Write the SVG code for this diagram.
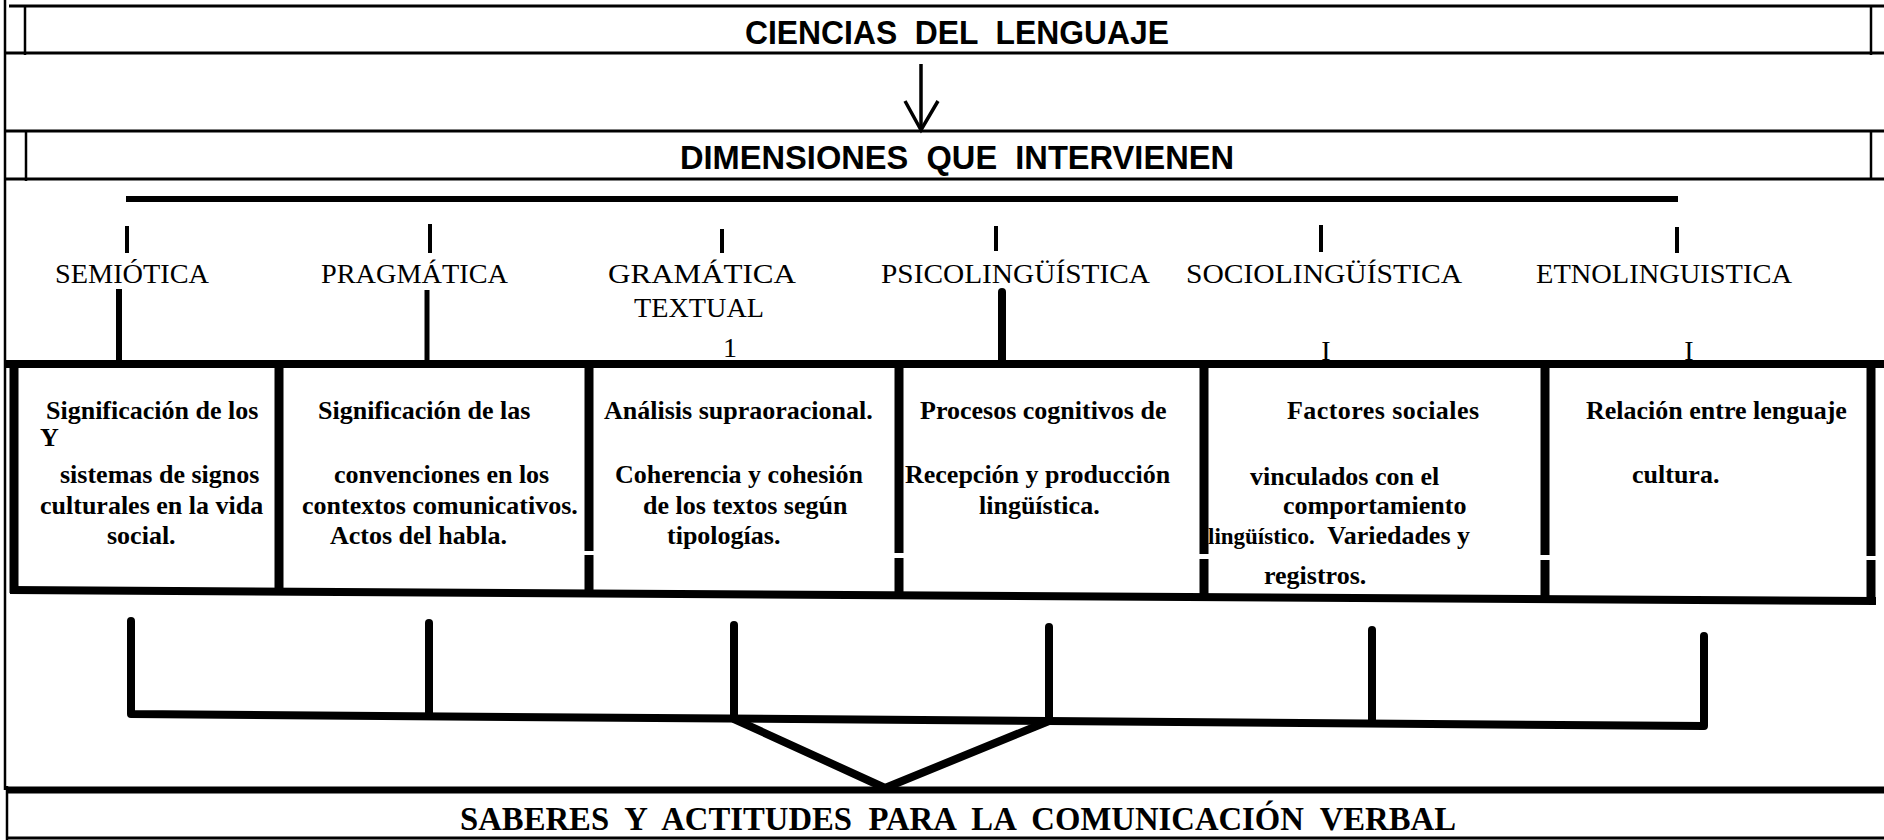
<svg xmlns="http://www.w3.org/2000/svg" width="1884" height="840" viewBox="0 0 1884 840">
<style>
.ln{stroke:#000;fill:none;stroke-linecap:butt}
.thin{stroke-width:3}
.hdr{font-family:"Liberation Sans",Arial,sans-serif;font-weight:bold;font-size:33px;fill:#000}
.lbl{font-family:"Liberation Serif","Times New Roman",serif;font-size:28px;fill:#000}
.bx{font-family:"Liberation Serif","Times New Roman",serif;font-weight:bold;font-size:26px;fill:#000}
.ftr{font-family:"Liberation Serif","Times New Roman",serif;font-weight:bold;font-size:34px;fill:#000}
.gap{fill:#fff}
</style>
<rect width="1884" height="840" fill="#fff"/>

<g id="outer-border">
<line class="ln" x1="5" y1="0" x2="5" y2="790" stroke-width="2.5"/>
</g>

<g id="ciencias-del-lenguaje">
<line class="ln thin" x1="9" y1="6" x2="1884" y2="6"/>
<line class="ln thin" x1="5" y1="53" x2="1884" y2="53"/>
<line class="ln" x1="25" y1="6" x2="25" y2="55" stroke-width="2.5"/>
<line class="ln" x1="1871" y1="6" x2="1871" y2="55" stroke-width="2.5"/>
<text class="hdr" x="745" y="44" textLength="424" lengthAdjust="spacingAndGlyphs" xml:space="preserve">CIENCIAS  DEL  LENGUAJE</text>
</g>

<g id="dimensiones">
<line class="ln thin" x1="5" y1="131" x2="1884" y2="131"/>
<line class="ln thin" x1="5" y1="179" x2="1884" y2="179"/>
<line class="ln" x1="26" y1="131" x2="26" y2="181" stroke-width="2.5"/>
<line class="ln" x1="1871" y1="131" x2="1871" y2="179" stroke-width="2.5"/>
<text class="hdr" x="680" y="169" textLength="554" lengthAdjust="spacingAndGlyphs" xml:space="preserve">DIMENSIONES  QUE  INTERVIENEN</text>
</g>

<g id="connectors">
<line class="ln" x1="921" y1="64" x2="921" y2="129" stroke-width="3.5"/>
<polyline class="ln" points="905,101 921,130 938,101" stroke-width="3.5"/>
<line class="ln" x1="126" y1="199" x2="1678" y2="199" stroke-width="6"/>
<g stroke-width="4" class="ln">
<line x1="127" y1="226" x2="127" y2="253"/>
<line x1="430" y1="224" x2="430" y2="253"/>
<line x1="722" y1="229" x2="722" y2="253"/>
<line x1="996" y1="226" x2="996" y2="251"/>
<line x1="1321" y1="225" x2="1321" y2="252"/>
<line x1="1677" y1="227" x2="1677" y2="253"/>
</g>
<line class="ln" x1="119" y1="289" x2="119" y2="360" stroke-width="6"/>
<line class="ln" x1="427" y1="290" x2="427" y2="360" stroke-width="5"/>
<line x1="1002" y1="292" x2="1002" y2="362" stroke="#000" stroke-width="8" stroke-linecap="round"/>
<text class="lbl" x="730" y="357" font-size="24" text-anchor="middle">1</text>
<text class="lbl" x="1326" y="360" font-size="24" text-anchor="middle">I</text>
<text class="lbl" x="1689" y="360" font-size="24" text-anchor="middle">I</text>
<g stroke="#000" stroke-width="8" stroke-linecap="round" stroke-linejoin="round" fill="none">
<path d="M131 621 V714 L1704 726 V636"/>
<path d="M429 623 V716"/>
<path d="M734 625 V718"/>
<path d="M1049 627 V721"/>
<path d="M1372 630 V723"/>
<path d="M734 719 L885 788 L1049 721"/>
</g>
</g>

<g id="frame">
<line class="ln" x1="6" y1="364" x2="1884" y2="364" stroke-width="8"/>
<line class="ln" x1="10" y1="590" x2="1876" y2="601" stroke-width="8"/>
<g class="ln" stroke-width="9">
<line x1="14" y1="362" x2="14" y2="593"/>
<line x1="279" y1="362" x2="279" y2="593"/>
<line x1="589" y1="362" x2="589" y2="594"/>
<line x1="899" y1="362" x2="899" y2="596"/>
<line x1="1204" y1="362" x2="1204" y2="598"/>
<line x1="1545" y1="362" x2="1545" y2="600"/>
<line x1="1871" y1="362" x2="1871" y2="602"/>
</g>
<rect class="gap" x="583" y="551" width="12" height="4"/>
<rect class="gap" x="893" y="553" width="12" height="5"/>
<rect class="gap" x="1198" y="554" width="12" height="5"/>
<rect class="gap" x="1539" y="555" width="12" height="5"/>
<rect class="gap" x="1865" y="556" width="12" height="4"/>
</g>

<g id="semiotica">
<text class="lbl" x="55" y="283" textLength="154" lengthAdjust="spacingAndGlyphs">SEMIÓTICA</text>
<text class="bx" x="46" y="419">Significación de los</text>
<text class="bx" x="40" y="446" font-size="18">Y</text>
<text class="bx" x="60" y="483">sistemas de signos</text>
<text class="bx" x="40" y="514">culturales en la vida</text>
<text class="bx" x="107" y="544">social.</text>
</g>

<g id="pragmatica">
<text class="lbl" x="321" y="283" textLength="187" lengthAdjust="spacingAndGlyphs">PRAGMÁTICA</text>
<text class="bx" x="318" y="419">Significación de las</text>
<text class="bx" x="334" y="483">convenciones en los</text>
<text class="bx" x="302" y="514">contextos comunicativos.</text>
<text class="bx" x="330" y="544">Actos del habla.</text>
</g>

<g id="gramatica-textual">
<text class="lbl" x="608" y="283" textLength="188" lengthAdjust="spacingAndGlyphs">GRAMÁTICA</text>
<text class="lbl" x="634" y="317" textLength="130" lengthAdjust="spacingAndGlyphs">TEXTUAL</text>
<text class="bx" x="604" y="419">Análisis supraoracional.</text>
<text class="bx" x="615" y="483">Coherencia y cohesión</text>
<text class="bx" x="643" y="514">de los textos según</text>
<text class="bx" x="667" y="544">tipologías.</text>
</g>

<g id="psicolinguistica">
<text class="lbl" x="881" y="283" textLength="269" lengthAdjust="spacingAndGlyphs">PSICOLINGÜÍSTICA</text>
<text class="bx" x="920" y="419">Procesos cognitivos de</text>
<text class="bx" x="905" y="483">Recepción y producción</text>
<text class="bx" x="979" y="514">lingüística.</text>
</g>

<g id="sociolinguistica">
<text class="lbl" x="1186" y="283" textLength="276" lengthAdjust="spacingAndGlyphs">SOCIOLINGÜÍSTICA</text>
<text class="bx" x="1287" y="419" textLength="192">Factores sociales</text>
<text class="bx" x="1250" y="485">vinculados con el</text>
<text class="bx" x="1283" y="514">comportamiento</text>
<text class="bx" x="1208" y="544" xml:space="preserve"><tspan font-size="23">lingüístico.</tspan>  Variedades y</text>
<text class="bx" x="1264" y="584">registros.</text>
</g>

<g id="etnolinguistica">
<text class="lbl" x="1536" y="283" textLength="256" lengthAdjust="spacingAndGlyphs">ETNOLINGUISTICA</text>
<text class="bx" x="1586" y="419">Relación entre lenguaje</text>
<text class="bx" x="1632" y="483">cultura.</text>
</g>

<g id="saberes">
<line class="ln" x1="6" y1="790" x2="1884" y2="790" stroke-width="7"/>
<line class="ln thin" x1="8" y1="838" x2="1884" y2="838"/>
<line class="ln" x1="7" y1="786" x2="7" y2="840" stroke-width="2.5"/>
<text class="ftr" x="460" y="830" textLength="996" lengthAdjust="spacingAndGlyphs" xml:space="preserve">SABERES  Y  ACTITUDES  PARA  LA  COMUNICACIÓN  VERBAL</text>
</g>
</svg>
